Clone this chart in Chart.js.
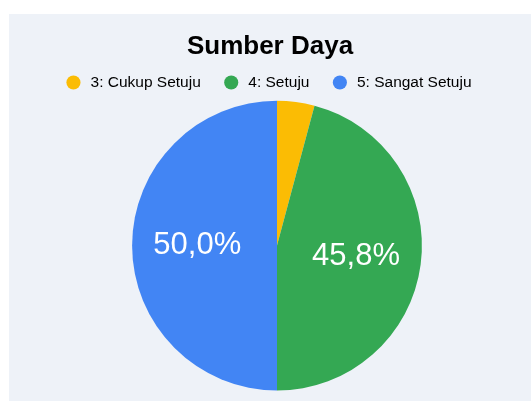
<!DOCTYPE html>
<html>
<head>
<meta charset="utf-8">
<script src="https://cdn.jsdelivr.net/npm/chart.js@4"></script>
<style>
  html, body { margin: 0; padding: 0; background: #fff; }
  #panel {
    position: absolute; left: 9px; top: 14px;
    width: 522px; height: 387px;
    background: #eef2f8;
  }
</style>
</head>
<body>
<div id="panel"><canvas id="chart"></canvas></div>
<script>
// Chart data
const title = "Sumber Daya";
const labels = ["3: Cukup Setuju", "4: Setuju", "5: Sangat Setuju"];
const counts = [1, 11, 12];
const colors = ["#fbbc04", "#34a853", "#4285f4"];

const FONT = "'Liberation Sans', Arial, sans-serif";

// Draw percentage text inside each big enough slice
const sliceLabels = {
  id: "sliceLabels",
  afterDatasetsDraw(chart) {
    const ctx = chart.ctx;
    const meta = chart.getDatasetMeta(0);
    const total = counts.reduce((a, b) => a + b, 0);
    ctx.save();
    ctx.fillStyle = "#fff";
    ctx.font = "31px " + FONT;
    ctx.textAlign = "center";
    ctx.textBaseline = "middle";
    meta.data.forEach((arc, i) => {
      const pct = counts[i] / total * 100;
      if (pct < 10) return;
      const mid = (arc.startAngle + arc.endAngle) / 2;
      const r = arc.outerRadius * 0.55;
      const x = arc.x + Math.cos(mid) * r;
      const y = arc.y + Math.sin(mid) * r;
      ctx.fillText(pct.toFixed(1).replace(".", ",") + "%", x, y);
    });
    ctx.restore();
  }
};

// Pie sits a little right of (and below) the title/legend centre
const nudgePie = {
  id: "nudgePie",
  afterLayout(chart) {
    chart.chartArea.left += 14;
    chart.chartArea.width -= 14;
    chart.chartArea.top += 1;
  }
};

new Chart(document.getElementById("chart"), {
  type: "pie",
  data: {
    labels: labels,
    datasets: [{
      data: counts,
      backgroundColor: colors,
      borderWidth: 0,
    }],
  },
  options: {
    responsive: true,
    maintainAspectRatio: false,
    animation: false,
    events: [],
    layout: { padding: { top: 10, bottom: 11 } },
    plugins: {
      title: {
        display: true,
        text: title,
        color: "#000",
        font: { family: FONT, size: 26, weight: "bold" },
        padding: { top: 7, bottom: 0 },
      },
      legend: {
        display: true,
        position: "top",
        labels: {
          usePointStyle: true,
          pointStyle: "circle",
          boxWidth: 10,
          boxHeight: 10,
          padding: 12.5,
          color: "#333",
          font: { family: FONT, size: 15.5 },
          generateLabels(chart) {
            return labels.map((text, i) => ({
              text: " " + text + (i < labels.length - 1 ? "   " : ""),
              fillStyle: colors[i],
              strokeStyle: colors[i],
              lineWidth: 0,
              pointStyle: "circle",
              hidden: false,
              index: i,
            }));
          },
        },
      },
      tooltip: { enabled: false },
    },
  },
  plugins: [sliceLabels, nudgePie],
});
</script>
</body>
</html>
